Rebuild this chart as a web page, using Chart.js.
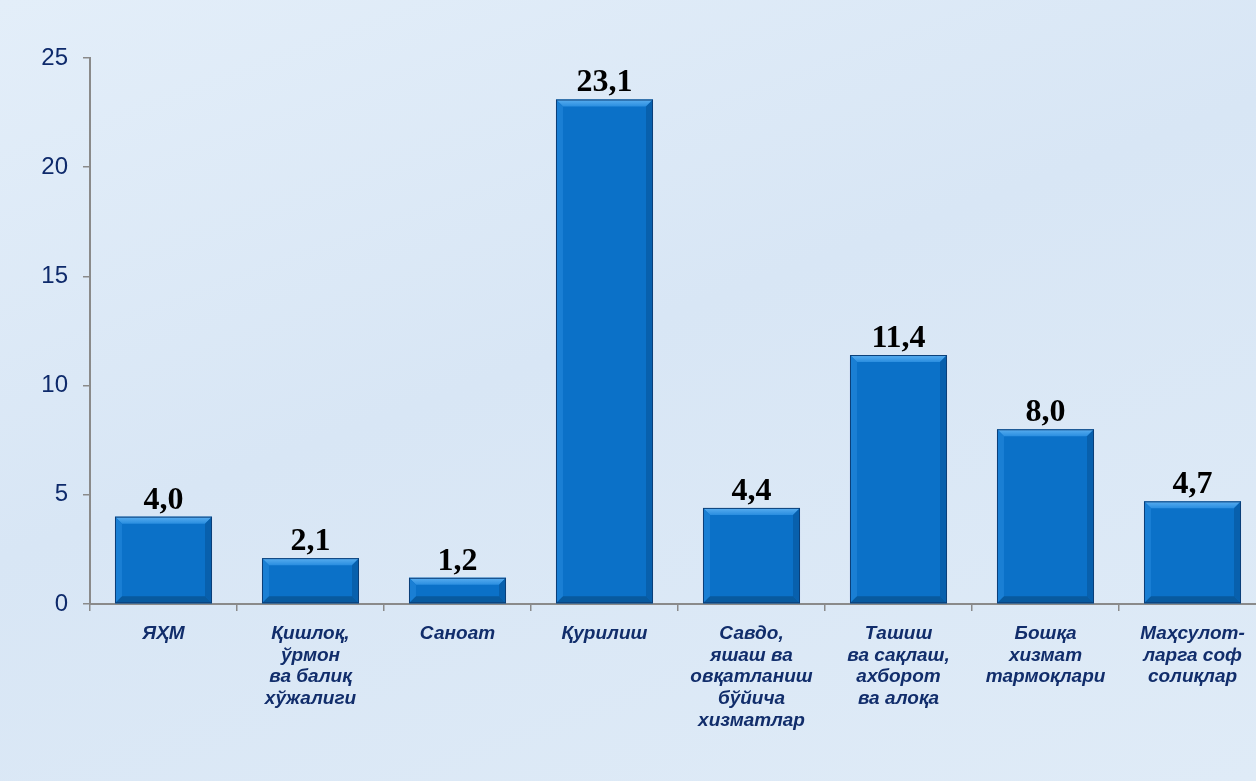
<!DOCTYPE html>
<html>
<head>
<meta charset="utf-8">
<script src="https://cdn.jsdelivr.net/npm/chart.js@4.4.0/dist/chart.umd.min.js"></script>
<style>
  html, body { margin: 0; padding: 0; overflow: hidden; }
  body {
    width: 1256px; height: 781px;
    background: linear-gradient(160deg, #e3eef9 0%, #d8e6f5 45%, #dfebf7 100%);
  }
  #wrap { position: absolute; left: 0; top: 0; width: 1266px; height: 781px; }
</style>
</head>
<body>
<div id="wrap"><canvas id="myChart" width="1266" height="781"></canvas></div>
<script>
var categories = [
    ['ЯҲМ'],
    ['Қишлоқ,', 'ўрмон', 'ва балиқ', 'хўжалиги'],
    ['Саноат'],
    ['Қурилиш'],
    ['Савдо,', 'яшаш ва', 'овқатланиш', 'бўйича', 'хизматлар'],
    ['Ташиш', 'ва сақлаш,', 'ахборот', 'ва алоқа'],
    ['Бошқа', 'хизмат', 'тармоқлари'],
    ['Маҳсулот-', 'ларга соф', 'солиқлар']
];
var values = [4.0, 2.1, 1.2, 23.1, 4.4, 11.4, 8.0, 4.7];
var yTicks = [0, 5, 10, 15, 20, 25];

function formatValue(v) {
    return v.toFixed(1).replace('.', ',');
}

// bevelled bar faces, drawn over the plain bars
var bevelPlugin = {
    id: 'bevel',
    afterDatasetsDraw: function (chart) {
        var ctx = chart.ctx;
        var meta = chart.getDatasetMeta(0);
        meta.data.forEach(function (bar) {
            var l = bar.x - bar.width / 2, r = bar.x + bar.width / 2;
            var t = bar.y, b = bar.base;
            var d = Math.min(7, (b - t) / 2);
            ctx.save();
            // top
            var g = ctx.createLinearGradient(0, t, 0, t + d);
            g.addColorStop(0, '#5aaef0');
            g.addColorStop(1, '#2a8ee0');
            ctx.fillStyle = g;
            ctx.beginPath();
            ctx.moveTo(l, t); ctx.lineTo(r, t); ctx.lineTo(r - d, t + d); ctx.lineTo(l + d, t + d);
            ctx.closePath(); ctx.fill();
            // left
            ctx.fillStyle = '#1a7fd4';
            ctx.beginPath();
            ctx.moveTo(l, t); ctx.lineTo(l + d, t + d); ctx.lineTo(l + d, b - d); ctx.lineTo(l, b);
            ctx.closePath(); ctx.fill();
            // right
            ctx.fillStyle = '#0860ad';
            ctx.beginPath();
            ctx.moveTo(r, t); ctx.lineTo(r - d, t + d); ctx.lineTo(r - d, b - d); ctx.lineTo(r, b);
            ctx.closePath(); ctx.fill();
            // bottom
            ctx.fillStyle = '#085a9f';
            ctx.beginPath();
            ctx.moveTo(l, b); ctx.lineTo(l + d, b - d); ctx.lineTo(r - d, b - d); ctx.lineTo(r, b);
            ctx.closePath(); ctx.fill();
            // outline
            ctx.strokeStyle = '#0b3f78';
            ctx.lineWidth = 1;
            ctx.strokeRect(l + 0.5, t + 0.5, r - l - 1, b - t - 1);
            ctx.restore();
        });
    }
};

var valueLabelPlugin = {
    id: 'valueLabels',
    afterDatasetsDraw: function (chart) {
        var ctx = chart.ctx;
        var meta = chart.getDatasetMeta(0);
        ctx.save();
        ctx.font = 'bold 32px "Liberation Serif", "Times New Roman", serif';
        ctx.fillStyle = '#000000';
        ctx.textAlign = 'center';
        ctx.textBaseline = 'alphabetic';
        meta.data.forEach(function (bar, i) {
            ctx.fillText(formatValue(values[i]), bar.x, bar.y - 8);
        });
        ctx.restore();
    }
};

var ctx = document.getElementById('myChart').getContext('2d');
var myChart = new Chart(ctx, {
    type: 'bar',
    data: {
        labels: categories,
        datasets: [{
            data: values,
            backgroundColor: '#0b71c8',
            borderWidth: 0,
            barPercentage: 0.66,
            categoryPercentage: 1.0
        }]
    },
    plugins: [bevelPlugin, valueLabelPlugin],
    options: {
        responsive: false,
        animation: false,
        layout: { padding: { top: 58, right: 0, bottom: 0, left: 0 } },
        plugins: {
            legend: { display: false },
            tooltip: { enabled: false }
        },
        scales: {
            x: {
                grid: {
                    display: true,
                    offset: true,
                    drawOnChartArea: false,
                    drawTicks: true,
                    tickLength: 7,
                    color: '#8a8a8a',
                    lineWidth: 1.5
                },
                border: { display: true, color: '#8a8a8a', width: 2 },
                ticks: {
                    color: '#112d6b',
                    padding: 12,
                    maxRotation: 0,
                    autoSkip: false,
                    font: { family: '"Liberation Sans", Arial, sans-serif', size: 19, weight: 'bold', style: 'italic', lineHeight: 1.14 }
                },
                afterFit: function (scale) { scale.height = 177; }
            },
            y: {
                min: 0,
                max: 25,
                afterBuildTicks: function (scale) {
                    scale.ticks = yTicks.map(function (v) { return { value: v }; });
                },
                grid: {
                    display: true,
                    drawOnChartArea: false,
                    drawTicks: true,
                    tickLength: 7,
                    color: '#8a8a8a',
                    lineWidth: 1.5
                },
                border: { display: true, color: '#8a8a8a', width: 2 },
                ticks: {
                    color: '#0e2a6b',
                    padding: 15,
                    font: { family: '"Liberation Sans", Arial, sans-serif', size: 24 }
                },
                afterFit: function (scale) { scale.width = 90; }
            }
        }
    }
});
</script>
</body>
</html>
